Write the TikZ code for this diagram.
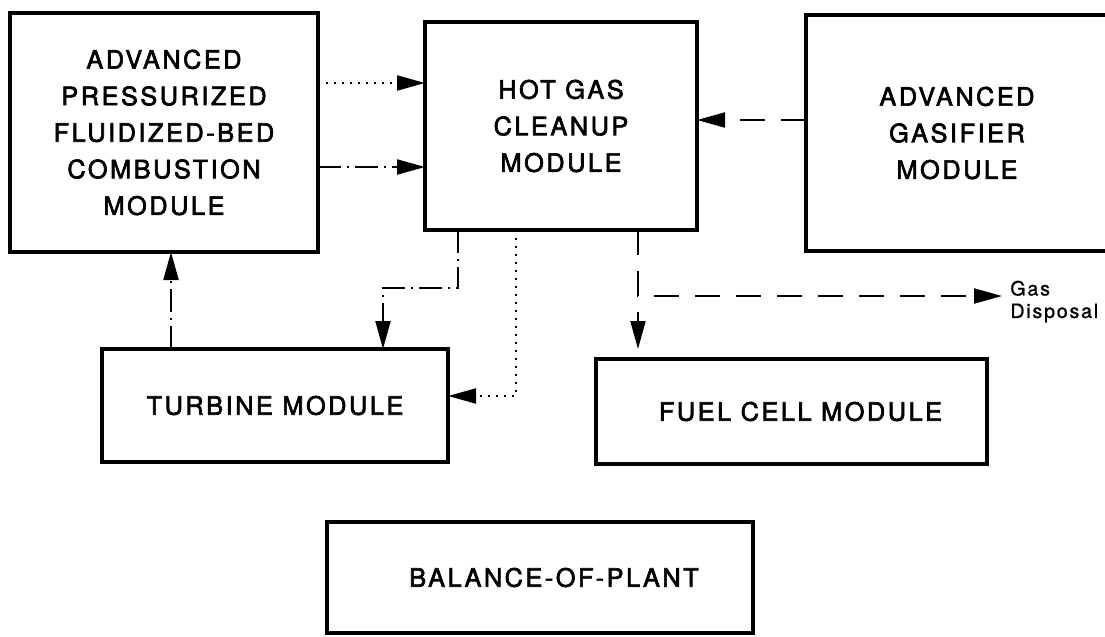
\documentclass[tikz,border=0pt]{standalone}
\usepackage{fontspec}
\newfontfamily\modfont[LetterSpace=10, FakeBold=2.5]{TeX Gyre Heros}
\newfontfamily\notefont[LetterSpace=9, FakeBold=1]{TeX Gyre Heros}
\usetikzlibrary{arrows.meta}

\begin{document}
\begin{tikzpicture}[>={Triangle[length=5.6mm, width=3mm]},
	modbox/.style={draw, line width=2pt, inner sep=0pt, outer sep=0pt, align=center,
		font=\modfont\fontsize{14.4}{20.8}\selectfont},
	flowdash/.style={->, line width=1.2pt, dash pattern=on 0.5cm off 0.32cm},
	flowdashdot/.style={->, line width=1.2pt, dash pattern=on 0.46cm off 0.12cm on 0.04cm off 0.12cm},
	flowdot/.style={->, line width=1.2pt, dash pattern=on 0.04cm off 0.12cm}]
	\useasboundingbox (0,0) rectangle (22.1,-12.72);
	% modules
	\node[modbox, minimum width=6.16cm, minimum height=4.78cm] (apfbc) at (3.28,-2.65) {ADVANCED\\PRESSURIZED\\FLUIDIZED-BED\\COMBUSTION\\MODULE};
	\node[modbox, minimum width=5.44cm, minimum height=4.16cm] (hgc) at (11.22,-2.52) {HOT GAS\\CLEANUP\\MODULE};
	\node[modbox, minimum width=6.04cm, minimum height=4.72cm] (ag) at (19.14,-2.66) {ADVANCED\\GASIFIER\\MODULE};
	\node[modbox, minimum width=6.92cm, minimum height=2.26cm] (turbine) at (5.50,-8.11) {TURBINE MODULE};
	\node[modbox, minimum width=7.82cm, minimum height=2.10cm] (fuel) at (15.83,-8.23) {\hspace*{0.36cm}FUEL CELL MODULE};
	\node[modbox, minimum width=8.52cm, minimum height=2.22cm] (bop) at (10.80,-11.55) {\hspace*{0.56cm}BALANCE-OF-PLANT};
	\node[anchor=west, align=left, inner sep=0pt, font=\notefont\fontsize{11.2}{12.8}\selectfont] (gasout) at (20.2,-6.03) {Gas\\Disposal};
	% flows into hot gas cleanup
	\draw[flowdot] (apfbc.east |- 0,-1.66) -- (hgc.west |- 0,-1.66);
	\draw[flowdashdot] (apfbc.east |- 0,-3.34) -- (hgc.west |- 0,-3.34);
	\draw[flowdash] (ag.west |- 0,-2.40) -- (hgc.east |- 0,-2.40);
	% flows out of hot gas cleanup
	\draw[flowdashdot] (hgc.south -| 9.16,0) |- (7.66,-5.76) -- (turbine.north -| 7.66,0);
	\draw[flowdot] (hgc.south -| 10.32,0) |- (turbine.east |- 0,-7.92);
	\coordinate (split) at (12.76,-5.92);
	\draw[flowdash, shorten >=0.16cm] (hgc.south -| split) -- (split) -- (gasout.west |- split);
	\draw[flowdash, dash phase=0.5cm, shorten >=0.2cm] (split) -- (fuel.north -| split);
	% turbine exhaust back to combustor
	\draw[flowdashdot] (turbine.north -| 3.42,0) -- (apfbc.south -| 3.42,0);
\end{tikzpicture}
\end{document}
